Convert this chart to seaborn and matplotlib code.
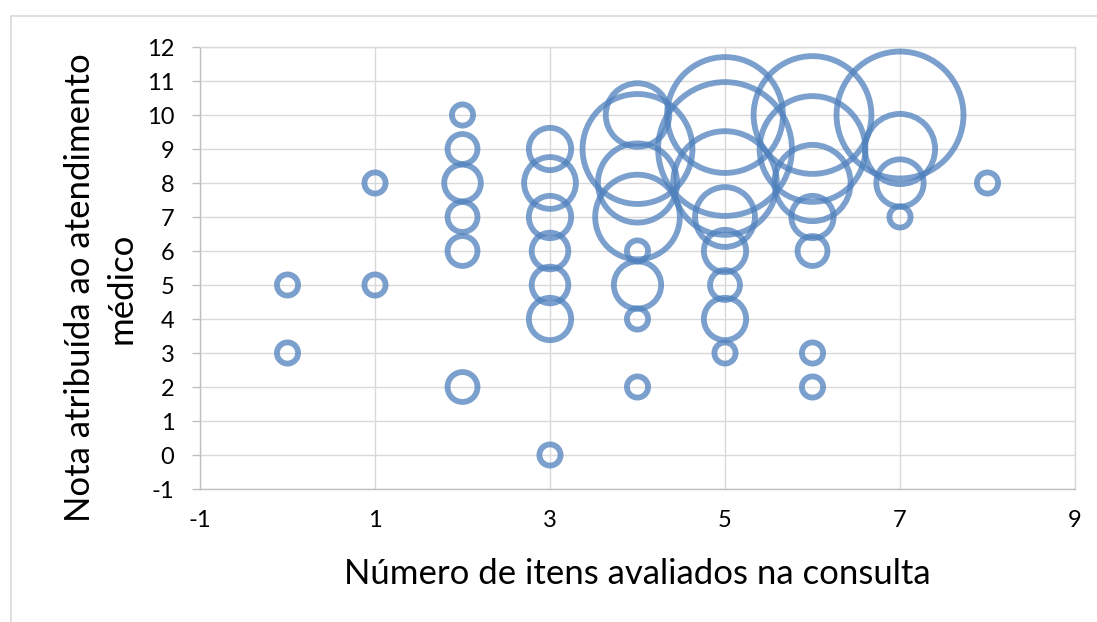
import matplotlib
matplotlib.use("Agg")
import pandas as pd
import seaborn as sns
import matplotlib.pyplot as plt
from matplotlib.lines import Line2D

# ================= DATA =================
# number of items evaluated in the consultation
itens = [0, 0,
         1, 1,
         2, 2, 2, 2, 2, 2,
         3, 3, 3, 3, 3, 3, 3,
         4, 4, 4, 4, 4, 4, 4, 4,
         5, 5, 5, 5, 5, 5, 5, 5,
         6, 6, 6, 6, 6, 6, 6,
         7, 7, 7, 7,
         8]
# score given to the medical visit
nota = [5, 3,
        8, 5,
        10, 9, 8, 7, 6, 2,
        9, 8, 7, 6, 5, 4, 0,
        10, 9, 8, 7, 6, 5, 4, 2,
        10, 9, 8, 7, 6, 5, 4, 3,
        10, 9, 8, 7, 6, 3, 2,
        10, 9, 8, 7,
        8]
# bubble size (count of answers)
contagem = [1, 1,
            1, 1,
            1, 2, 3, 2, 2, 2,
            4, 6, 4, 3, 3, 4, 1,
            9, 27, 14, 16, 1, 5, 1, 1,
            30, 40, 24, 8, 4, 2, 4, 1,
            31, 25, 13, 4, 2, 1, 1,
            36, 11, 5, 1,
            1]

x_ticks = [-1, 1, 3, 5, 7, 9]
y_ticks = list(range(-1, 13))

BLUE = "#4F81BD"
GRID = "#D9D9D9"

df = pd.DataFrame({"itens": itens, "nota": nota, "n": contagem})

sns.set_style("white")
plt.rcParams["font.family"] = ["Lato", "DejaVu Sans"]
plt.rcParams["axes.unicode_minus"] = False

fig = plt.figure(figsize=(10.97, 6.22), dpi=100)
ax = fig.add_axes([200 / 1097, 1 - 489 / 622, 875 / 1097, 442 / 622])

k = 232  # marker area (pt^2) per answer -> area proportional to count
sns.scatterplot(
    data=df, x="itens", y="nota", size="n",
    sizes=(k * df["n"].min(), k * df["n"].max()),
    facecolor="none", edgecolor=BLUE, linewidth=4.2, alpha=0.75,
    legend=False, ax=ax, zorder=3,
)

ax.set_xlim(-1, 9)
ax.set_ylim(-1, 12)
ax.set_xticks(x_ticks)
ax.set_yticks(y_ticks)
ax.grid(True, color=GRID, linewidth=1.0, zorder=0)
ax.set_axisbelow(True)

for side in ["top", "right"]:
    ax.spines[side].set_color(GRID)
    ax.spines[side].set_linewidth(1.0)
for side in ["left", "bottom"]:
    ax.spines[side].set_color("#BFBFBF")
    ax.spines[side].set_linewidth(1.0)

ax.tick_params(axis="y", length=5.5, width=1.0, color="#BFBFBF", pad=13,
               labelsize=17, labelcolor="#000000", left=True)
ax.tick_params(axis="x", length=0, pad=15, labelsize=17, labelcolor="#000000")

ax.set_xlabel("Número de itens avaliados na consulta", fontsize=25, color="#000000")
ax.set_ylabel("Nota atribuída ao atendimento\nmédico", fontsize=25, color="#000000",
              linespacing=1.35)
ax.xaxis.set_label_coords(0.5, -0.155)
ax.yaxis.set_label_coords(-0.072, 0.455)

# light chart-area border (top and left edges visible in the crop)
fig.add_artist(Line2D([11 / 1097, 1], [1 - 16 / 622] * 2, color=GRID, linewidth=1.2,
                      transform=fig.transFigure))
fig.add_artist(Line2D([11 / 1097] * 2, [0, 1 - 16 / 622], color=GRID, linewidth=1.2,
                      transform=fig.transFigure))

fig.savefig("out.png", dpi=100)
